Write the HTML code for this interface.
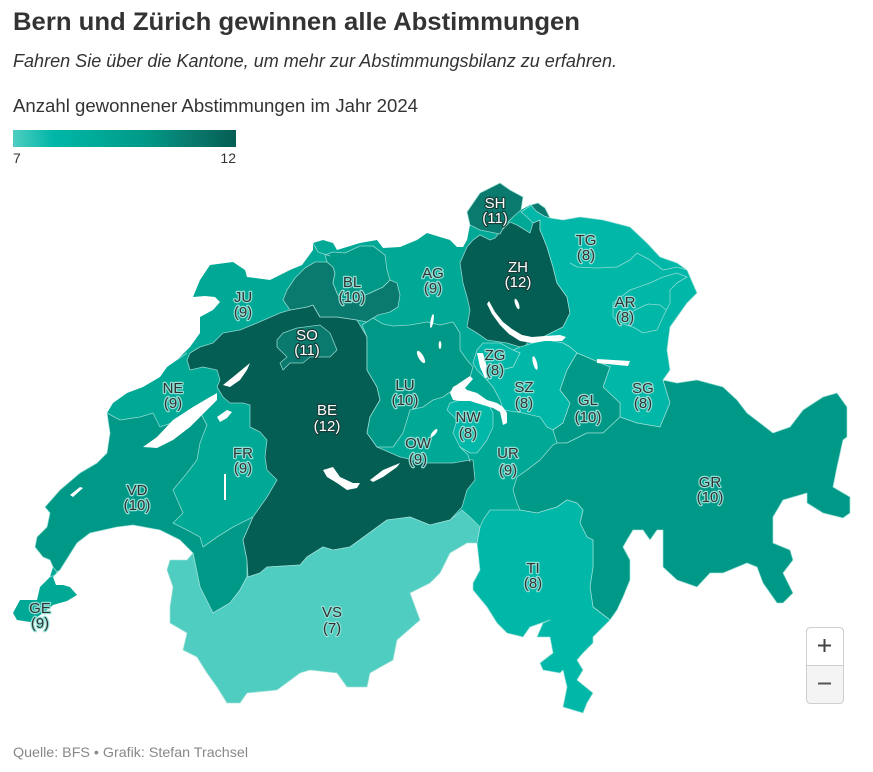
<!DOCTYPE html>
<html><head><meta charset="utf-8"><style>
html,body{margin:0;padding:0;background:#fff;}
svg{display:block;}
.t{font-family:"Liberation Sans",sans-serif;}
.lb{font-family:"Liberation Sans",sans-serif;font-size:15px;text-anchor:middle;fill:#333;paint-order:stroke;stroke:#8fe0d6;stroke-width:2.4px;stroke-linejoin:round;}
.lw{font-family:"Liberation Sans",sans-serif;font-size:15px;text-anchor:middle;fill:#fff;paint-order:stroke;stroke:#163f3a;stroke-width:2.4px;stroke-linejoin:round;}
.b{stroke:#a6e3db;stroke-width:0.8;stroke-opacity:0.85;stroke-linejoin:round;}
</style></head><body>
<svg width="873" height="772" viewBox="0 0 873 772" xmlns="http://www.w3.org/2000/svg">
<defs>
<linearGradient id="lg" x1="0" x2="1" y1="0" y2="0">
<stop offset="0" stop-color="#4fcdc0"/><stop offset="0.18" stop-color="#00b7a8"/><stop offset="0.4" stop-color="#00a896"/><stop offset="0.6" stop-color="#009886"/><stop offset="0.8" stop-color="#097a6d"/><stop offset="1" stop-color="#045e54"/>
</linearGradient>
</defs>
<rect width="873" height="772" fill="#fff"/>
<text class="t" x="13" y="30" font-size="25" font-weight="bold" fill="#333" textLength="567" lengthAdjust="spacingAndGlyphs">Bern und Zürich gewinnen alle Abstimmungen</text>
<text class="t" x="13" y="67" font-size="18" font-style="italic" fill="#333" textLength="604" lengthAdjust="spacingAndGlyphs">Fahren Sie über die Kantone, um mehr zur Abstimmungsbilanz zu erfahren.</text>
<text class="t" x="13" y="112" font-size="18" fill="#333" textLength="405" lengthAdjust="spacingAndGlyphs">Anzahl gewonnener Abstimmungen im Jahr 2024</text>
<rect x="13" y="130" width="223" height="17" fill="url(#lg)"/>
<text class="t" x="13" y="163" font-size="14" fill="#333">7</text>
<text class="t" x="236" y="163" font-size="14" fill="#333" text-anchor="end">12</text>

<!-- base country (9) -->
<polygon fill="#00a896" points="210,265 233,262 245,270 247,277 270,280 290,270 302,265 313,250 313,243 323,240 333,243 337,250 360,243 377,240 383,248 400,247 417,240 427,233 440,237 450,240 457,247 463,247 467,240 470,225 467,212 480,193 500,183 510,190 523,197 521,210 530,205 538,203 545,208 550,218 563,220 580,217 603,220 630,227 647,243 660,257 677,263 687,270 697,293 687,303 670,327 667,350 670,370 663,380 677,383 697,380 723,387 737,400 747,413 773,433 790,427 803,410 823,397 837,393 847,407 847,437 843,440 837,467 833,487 850,497 850,513 843,518 823,513 807,503 807,493 783,500 773,517 773,543 790,550 793,560 783,573 793,593 783,603 777,603 763,583 757,567 747,563 723,573 710,573 697,587 677,580 663,567 663,530 657,530 650,540 643,530 633,530 627,540 623,547 630,560 630,580 623,597 617,610 610,620 593,637 593,643 583,653 577,660 583,670 577,680 593,693 587,703 583,713 563,707 567,687 563,670 560,673 543,670 540,663 553,653 550,637 537,637 543,623 550,620 530,627 523,637 507,633 497,623 487,607 473,590 473,583 480,570 477,543 467,543 450,553 440,573 430,583 410,593 420,620 397,640 393,660 370,673 367,687 347,687 337,673 310,670 300,673 277,690 247,693 240,703 227,703 217,687 207,673 197,657 183,650 187,633 170,623 170,607 173,587 167,570 170,560 187,560 193,553 180,540 160,530 133,525 117,527 90,533 77,543 60,570 53,577 56,585 63,585 70,587 77,595 67,601 53,605 43,613 30,622 17,620 13,613 20,600 37,600 40,587 50,577 53,567 50,560 43,557 35,547 37,537 47,527 50,513 45,507 60,490 80,473 97,463 107,453 110,433 107,413 113,403 127,393 143,387 160,377 167,367 177,360 190,347 200,333 200,317 213,310 220,302 215,297 205,296 193,297 200,280"/>

<!-- VD 10 -->
<polygon class="b" fill="#009886" points="107,413 110,433 107,453 97,463 80,473 60,490 45,507 50,513 47,527 37,537 35,547 43,557 50,560 53,567 57,572 60,570 77,543 90,533 117,527 133,525 160,530 180,540 193,553 200,587 213,613 230,603 240,590 247,577 247,560 243,540 253,517 233,527 217,537 203,547 200,537 187,530 173,523 183,513 173,490 187,473 197,460 200,443 207,425 200,412 180,420 160,427 153,413 140,417 120,420"/>
<!-- BE 12 -->
<polygon class="b" fill="#045e54" points="280,313 257,323 240,330 223,333 213,343 200,347 190,353 187,360 190,370 203,367 217,370 220,380 217,387 223,397 230,403 243,403 250,405 250,427 260,432 267,440 265,457 267,470 277,480 267,497 253,517 243,540 247,560 248,577 260,573 267,567 300,565 307,557 323,547 333,550 350,547 387,520 410,517 430,525 450,520 462,507 467,490 475,480 473,460 470,460 453,463 427,463 400,457 377,447 367,433 370,417 380,400 377,387 367,370 367,337 357,320 337,317 320,317 313,305 307,307 290,310"/>
<!-- SO 11 -->
<polygon class="b" fill="#097a6d" points="287,290 295,278 305,268 315,262 327,262 333,267 335,273 333,283 337,293 340,298 353,300 370,293 383,287 390,280 397,283 400,295 398,307 390,312 378,315 367,322 357,320 337,317 320,317 313,305 307,307 290,310 283,300"/>
<polygon class="b" fill="#097a6d" points="277,340 283,333 297,328 320,325 330,333 337,350 330,357 310,357 303,363 290,363 283,370 280,363 287,357 277,347"/>
<!-- BL 10 -->
<polygon class="b" fill="#009886" points="325,255 333,252 345,253 360,246 373,246 385,255 387,270 390,280 383,287 370,293 353,300 340,298 337,293 333,283 335,273 333,267 327,262"/>
<!-- LU 10 -->
<polygon class="b" fill="#009886" points="362,325 373,318 383,324 393,326 410,325 427,322 440,325 453,322 460,333 460,350 467,360 473,367 470,377 457,387 443,397 433,400 423,407 410,410 407,420 403,433 393,447 377,447 367,433 370,417 380,400 377,387 367,370 367,337"/>
<!-- ZH 12 -->
<polygon class="b" fill="#045e54" points="467,247 473,240 480,235 490,240 495,238 500,232 510,222 517,225 530,233 533,223 540,220 540,230 543,237 547,247 550,257 553,267 557,283 567,297 570,313 563,327 543,337 527,343 523,353 520,347 507,343 487,340 477,333 467,327 470,310 467,297 463,283 460,263"/>
<!-- East 8 (TG SG AR AI) -->
<polygon class="b" fill="#00b7a8" points="521,212 530,206 538,204 545,208 550,218 563,220 580,217 603,220 630,227 647,243 660,257 677,263 687,270 697,293 687,303 670,327 667,350 670,370 663,380 670,403 660,427 637,423 620,417 620,403 603,387 610,367 577,353 570,347 563,343 547,340 543,337 563,327 570,313 567,297 557,283 553,267 550,257 547,247 543,237 540,230 540,220 533,223 528,218"/>
<!-- SH 11 -->
<polygon class="b" fill="#097a6d" points="467,212 480,193 500,183 510,190 523,197 521,210 513,217 505,225 500,234 490,232 480,230 470,225"/>
<polygon class="b" fill="#097a6d" points="531,205 538,203 545,208 550,218 544,216 536,211"/>
<!-- SZ 8 -->
<polygon class="b" fill="#00b7a8" points="513,350 520,347 533,343 547,340 563,343 570,347 577,353 567,370 560,390 570,403 563,423 553,430 547,427 540,417 523,413 503,410 500,400 493,387 487,380 500,370 513,367 520,353"/>
<!-- ZG 8 -->
<polygon class="b" fill="#00b7a8" points="477,350 483,343 500,343 513,350 520,353 513,367 500,370 487,380 477,370 473,363"/>
<!-- GL 10 -->
<polygon class="b" fill="#009886" points="577,353 610,367 603,387 620,403 620,417 603,433 587,433 567,443 557,443 553,430 563,423 570,403 560,390 567,370"/>
<!-- NW 8 -->
<polygon class="b" fill="#00b7a8" points="447,410 450,403 460,400 473,400 483,403 490,407 493,413 493,427 487,440 477,453 470,453 460,447 453,433 457,420"/>
<!-- GR 10 -->
<polygon class="b" fill="#009886" points="620,417 637,423 660,427 670,403 663,380 677,383 697,380 723,387 737,400 747,413 773,433 790,427 803,410 823,397 837,393 847,407 847,437 843,440 837,467 833,487 850,497 850,513 843,518 823,513 807,503 807,493 783,500 773,517 773,543 790,550 793,560 783,573 793,593 783,603 777,603 763,583 757,567 747,563 723,573 710,573 697,587 677,580 663,567 663,530 657,530 650,540 643,530 633,530 627,540 623,547 630,560 630,580 623,597 617,610 610,620 593,607 590,587 593,567 593,540 587,537 580,523 583,510 577,503 567,500 557,507 537,513 520,510 517,503 513,490 517,477 527,470 540,460 553,445 557,443 567,443 587,433 603,433"/>
<!-- TI 8 -->
<polygon class="b" fill="#00b7a8" points="480,527 483,520 490,510 520,510 537,513 557,507 567,500 577,503 583,510 580,523 587,537 593,540 593,567 590,587 593,607 610,620 593,637 593,643 583,653 577,660 583,670 577,680 593,693 587,703 583,713 563,707 567,687 563,670 560,673 543,670 540,663 553,653 550,637 537,637 543,623 550,620 530,627 523,637 507,633 497,623 487,607 473,590 473,583 480,570 477,543"/>
<!-- VS 7 -->
<polygon class="b" fill="#4fcdc0" points="480,527 477,543 467,543 450,553 440,573 430,583 410,593 420,620 397,640 393,660 370,673 367,687 347,687 337,673 310,670 300,673 277,690 247,693 240,703 227,703 217,687 207,673 197,657 183,650 187,633 170,623 170,607 173,587 167,570 170,560 187,560 193,553 200,587 213,613 230,603 240,590 247,577 248,577 260,573 267,567 300,565 307,557 323,547 333,550 350,547 387,520 410,517 430,525 450,520 462,510 470,517"/>

<!-- extra boundary lines -->
<g fill="none" class="b">
<polyline points="570,263 577,267 597,268 617,267 630,260 637,253 650,260 663,270 677,267 687,270"/>
<polygon points="613,317 613,303 630,290 650,283 663,277 677,273 687,277 677,283 670,290 670,303 663,317 657,330 643,333 633,327 620,323"/>
<polyline points="622,318 635,310 648,304 660,305 666,310"/>
<polyline points="460,447 468,455 470,462"/>
<polyline points="177,360 187,353"/>
<polyline points="50,577 55,575 58,571"/>
<polyline points="313,243 318,252 330,256"/>
</g>

<!-- lakes -->
<g fill="#fff">
<path d="M143,447 L157,437 L173,420 L193,407 L210,397 L217,393 L217,400 L207,410 L190,427 L173,440 L157,448 Z"/>
<path d="M223,385 L233,377 L250,363 L247,370 L240,380 L230,387 Z"/>
<path d="M217,417 L227,410 L232,412 L227,418 L220,422 Z"/>
<path d="M323,470 L333,467 L340,477 L353,483 L360,483 L357,488 L347,490 L337,483 L327,477 Z"/>
<path d="M370,480 L383,470 L400,463 L397,467 L383,477 L373,482 Z"/>
<path d="M489,301 L495,312 L503,322 L512,329 L522,335 L532,337 L545,336 L560,335 L566,337 L562,341 L545,341 L532,343 L520,341 L509,334 L500,325 L492,314 L487,304 Z"/>
<ellipse cx="517" cy="304" rx="1.8" ry="5.5" transform="rotate(-20 517 304)"/>
<path d="M477,353 L483,353 L487,367 L490,377 L485,378 L480,367 Z"/>
<path d="M450,393 L453,387 L460,383 L467,390 L477,393 L487,400 L497,403 L503,407 L507,413 L507,423 L503,425 L500,412 L493,408 L483,405 L470,401 L460,401 L453,400 Z"/>
<path d="M458,384 L470,376 L473,379 L465,388 Z"/>
<path d="M597,359 L630,361 L628,366 L597,363 Z"/>
<ellipse cx="421" cy="357" rx="2.5" ry="7" transform="rotate(-30 421 357)"/>
<ellipse cx="432" cy="321" rx="1.5" ry="7" transform="rotate(10 432 321)"/>
<ellipse cx="440" cy="345" rx="1.3" ry="4"/>
<ellipse cx="535" cy="363" rx="2" ry="7" transform="rotate(-15 535 363)"/>
<ellipse cx="434" cy="433" rx="1.8" ry="5" transform="rotate(40 434 433)"/>
<path d="M70,495 L80,487 L83,488 L73,497 Z"/>
<rect x="224" y="474" width="2" height="26"/>
</g>

<!-- labels -->
<g>
<text class="lw" x="495" y="208">SH</text><text class="lw" x="495" y="223">(11)</text>
<text class="lw" x="518" y="272">ZH</text><text class="lw" x="518" y="287">(12)</text>
<text class="lb" x="586" y="245">TG</text><text class="lb" x="586" y="260">(8)</text>
<text class="lb" x="625" y="307">AR</text><text class="lb" x="625" y="322">(8)</text>
<text class="lb" x="433" y="278">AG</text><text class="lb" x="433" y="293">(9)</text>
<text class="lb" x="352" y="287">BL</text><text class="lb" x="352" y="302">(10)</text>
<text class="lb" x="243" y="302">JU</text><text class="lb" x="243" y="317">(9)</text>
<text class="lw" x="307" y="340">SO</text><text class="lw" x="307" y="355">(11)</text>
<text class="lb" x="173" y="393">NE</text><text class="lb" x="173" y="408">(9)</text>
<text class="lb" x="405" y="390">LU</text><text class="lb" x="405" y="405">(10)</text>
<text class="lw" x="327" y="415">BE</text><text class="lw" x="327" y="431">(12)</text>
<text class="lb" x="418" y="448">OW</text><text class="lb" x="418" y="464">(9)</text>
<text class="lb" x="243" y="458">FR</text><text class="lb" x="243" y="473">(9)</text>
<text class="lb" x="137" y="495">VD</text><text class="lb" x="137" y="510">(10)</text>
<text class="lb" x="40" y="613">GE</text><text class="lb" x="40" y="628">(9)</text>
<text class="lb" x="332" y="617">VS</text><text class="lb" x="332" y="633">(7)</text>
<text class="lb" x="495" y="360">ZG</text><text class="lb" x="495" y="375">(8)</text>
<text class="lb" x="524" y="392">SZ</text><text class="lb" x="524" y="408">(8)</text>
<text class="lb" x="468" y="422">NW</text><text class="lb" x="468" y="438">(8)</text>
<text class="lb" x="588" y="405">GL</text><text class="lb" x="588" y="422">(10)</text>
<text class="lb" x="508" y="458">UR</text><text class="lb" x="508" y="475">(9)</text>
<text class="lb" x="643" y="393">SG</text><text class="lb" x="643" y="408">(8)</text>
<text class="lb" x="710" y="487">GR</text><text class="lb" x="710" y="502">(10)</text>
<text class="lb" x="533" y="573">TI</text><text class="lb" x="533" y="588">(8)</text>
</g>

<!-- zoom control -->
<rect x="806.5" y="627.5" width="37" height="76" rx="4" ry="4" fill="#fff" stroke="#cfcfcf"/>
<path d="M807,665 H843 V699 Q843,703 839,703 H811 Q807,703 807,699 Z" fill="#f4f4f4"/>
<line x1="807" y1="665.5" x2="843" y2="665.5" stroke="#cfcfcf"/>
<rect x="806.5" y="627.5" width="37" height="76" rx="4" ry="4" fill="none" stroke="#cfcfcf"/>
<path d="M818,645.5 H831 M824.5,639 V652" stroke="#444" stroke-width="2"/>
<path d="M818,683.5 H831" stroke="#555" stroke-width="2"/>

<text class="t" x="13" y="757" font-size="14" fill="#888" textLength="235" lengthAdjust="spacingAndGlyphs">Quelle: BFS • Grafik: Stefan Trachsel</text>
</svg>
</body></html>
